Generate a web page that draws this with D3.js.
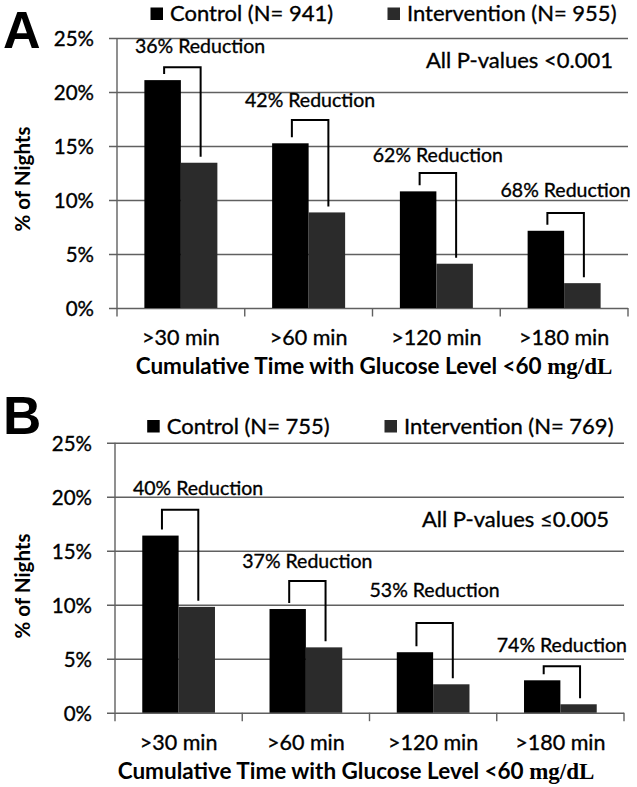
<!DOCTYPE html>
<html><head><meta charset="utf-8">
<script src="https://cdn.jsdelivr.net/npm/d3@7"></script>
<style>body{margin:0;background:#fff} svg{display:block}
.t{stroke:#000;stroke-width:0.35px;paint-order:stroke}</style>
</head><body><svg id="c" width="637" height="787"></svg>
<script>
// ---------- data ----------
const categories = [">30 min", ">60 min", ">120 min", ">180 min"];
const seriesNames = ["Control", "Intervention"];
const yTicks = [0, 5, 10, 15, 20, 25];

const controlA = [21.1, 15.25, 10.8, 7.15];
const interventionA = [13.45, 8.85, 4.1, 2.3];
const nA = [941, 955];
const reductionA = ["36%", "42%", "62%", "68%"];
const bracketLevelA = [22.3, 17.4, 12.5, 8.8];
const labelLevelA = [23.6, 18.6, 13.55, 10.3];
const noteA = "All P-values <0.001";

const controlB = [16.4, 9.6, 5.6, 3.0];
const interventionB = [9.8, 6.05, 2.63, 0.78];
const nB = [755, 769];
const reductionB = ["40%", "37%", "53%", "74%"];
const bracketLevelB = [18.8, 12.2, 8.3, 4.3];
const labelLevelB = [20.15, 13.4, 10.7, 5.65];
const noteB = "All P-values \u22640.005";

// ---------- layout / style ----------
const FONT = "Lato, 'Open Sans', sans-serif";
const colors = ["#000000", "#2b2b2b"];
const gridColor = "#606060";

const panels = [
  { letter: "A", control: controlA, intervention: interventionA, n: nA, reduction: reductionA,
    bracket: bracketLevelA, labelLevel: labelLevelA, note: noteA,
    left: 117, right: 628, top: 38, bottom: 308,
    legendX: [170, 407], legendY: 21, noteY: 68.3, letterY: 47.5, letterSize: 52,
    titleCx: 374, yTitleCy: 179 },
  { letter: "B", control: controlB, intervention: interventionB, n: nB, reduction: reductionB,
    bracket: bracketLevelB, labelLevel: labelLevelB, note: noteB,
    left: 115, right: 624, top: 442.7, bottom: 712.7,
    legendX: [166.7, 404], legendY: 433.5, noteY: 526.7, letterY: 434, letterSize: 53,
    titleCx: 356, yTitleCy: 586 }
];

const svg = d3.select("#c");
svg.append("rect").attr("width", 637).attr("height", 787).attr("fill", "#fff");

panels.forEach(p => {
  const g = svg.append("g");
  const y = d3.scaleLinear().domain([0, 25]).range([p.bottom, p.top]);
  const x = d3.scaleBand().domain(categories).range([p.left, p.right]);
  const bw = x.bandwidth();
  const barW = bw / 3.5;

  // gridlines + y labels via axis
  const yAxis = d3.axisLeft(y).tickValues(yTicks).tickFormat(d => d + "%")
    .tickSize(-(p.right - p.left)).tickPadding(23);
  const ya = g.append("g").attr("transform", `translate(${p.left},0)`).call(yAxis);
  ya.select(".domain").remove();
  ya.selectAll(".tick line").attr("x1", -8).attr("stroke", gridColor).attr("stroke-width", 1.4);
  ya.selectAll(".tick text").attr("class", "t").attr("font-family", FONT).attr("font-size", 20.5)
    .attr("fill", "#000").attr("dy", "0.36em");
  // vertical axis line
  g.append("line").attr("x1", p.left).attr("x2", p.left).attr("y1", y(25)).attr("y2", y(0))
    .attr("stroke", gridColor).attr("stroke-width", 1.4);

  // category boundary ticks
  const bounds = categories.map(c => x(c)).concat([x.range()[1]]);
  g.selectAll(".bt").data(bounds).enter().append("line")
    .attr("x1", d => d).attr("x2", d => d).attr("y1", y(0)).attr("y2", y(0) + 8.5)
    .attr("stroke", gridColor).attr("stroke-width", 1.4);

  // x labels
  const xa = g.append("g").attr("transform", `translate(0,${p.bottom})`)
    .call(d3.axisBottom(x).tickSize(0).tickPadding(22));
  xa.select(".domain").remove();
  xa.selectAll(".tick text").attr("class", "t").attr("font-family", FONT).attr("font-size", 21.5).attr("fill", "#000");

  // bars
  const rows = categories.map((c, i) => ({ c, vals: [p.control[i], p.intervention[i]], i }));
  rows.forEach(r => {
    r.vals.forEach((v, s) => {
      g.append("rect")
        .attr("x", x(r.c) + bw / 2 - barW + s * barW)
        .attr("y", y(v))
        .attr("width", barW)
        .attr("height", y(0) - y(v))
        .attr("fill", colors[s]);
    });
    // bracket
    const lx = x(r.c) + bw / 2 - barW / 2 + 1.5;
    const rx = x(r.c) + bw / 2 + barW / 2 + 1.5;
    const top = y(p.bracket[r.i]);
    g.append("path")
      .attr("d", `M${lx},${y(r.vals[0]) - 6}V${top}H${rx}V${y(r.vals[1]) - 6}`)
      .attr("fill", "none").attr("stroke", "#000").attr("stroke-width", 2);
    const t = g.append("text").attr("class", "t")
      .attr("font-family", FONT).attr("font-size", 19.5).attr("fill", "#000")
      .attr("text-anchor", "middle")
      .attr("y", y(p.labelLevel[r.i]))
      .text(p.reduction[r.i] + " Reduction");
    const half = t.node().getComputedTextLength() / 2;
    const cx = Math.max((lx + rx) / 2, p.left + half + 18);
    t.attr("x", cx);
  });

  // legend
  seriesNames.forEach((name, s) => {
    g.append("rect").attr("x", p.legendX[s] - 19.5).attr("y", p.legendY - 13.5)
      .attr("width", 12.5).attr("height", 12.5).attr("fill", colors[s]);
    g.append("text").attr("class", "t").attr("x", p.legendX[s]).attr("y", p.legendY)
      .attr("font-family", FONT).attr("font-size", 22).attr("fill", "#000")
      .text(`${name} (N= ${p.n[s]})`);
  });

  // note
  g.append("text").attr("class", "t").attr("x", p.right - 15).attr("y", p.noteY).attr("text-anchor", "end")
    .attr("font-family", FONT).attr("font-size", 22).attr("fill", "#000").text(p.note);

  // panel letter
  g.append("text").attr("x", 3).attr("y", p.letterY)
    .attr("font-family", "'Liberation Sans', Arial, sans-serif").attr("font-weight", "bold")
    .attr("font-size", p.letterSize).attr("fill", "#000").text(p.letter);

  // y title
  g.append("text").attr("transform", `translate(30,${p.yTitleCy}) rotate(-90)`)
    .attr("text-anchor", "middle").attr("font-family", FONT).attr("font-weight", "bold")
    .attr("font-size", 20.5).attr("fill", "#000").text("% of Nights");

  // x title
  const xt = g.append("text").attr("x", p.titleCx).attr("y", p.bottom + 66)
    .attr("text-anchor", "middle").attr("font-family", FONT).attr("font-weight", "bold")
    .attr("font-size", 22.5).attr("fill", "#000");
  xt.append("tspan").text("Cumulative Time with Glucose Level <60 ");
  xt.append("tspan").attr("font-family", "'Liberation Serif', 'Times New Roman', serif")
    .attr("font-size", 23).text("mg/dL");
});
</script></body></html>
